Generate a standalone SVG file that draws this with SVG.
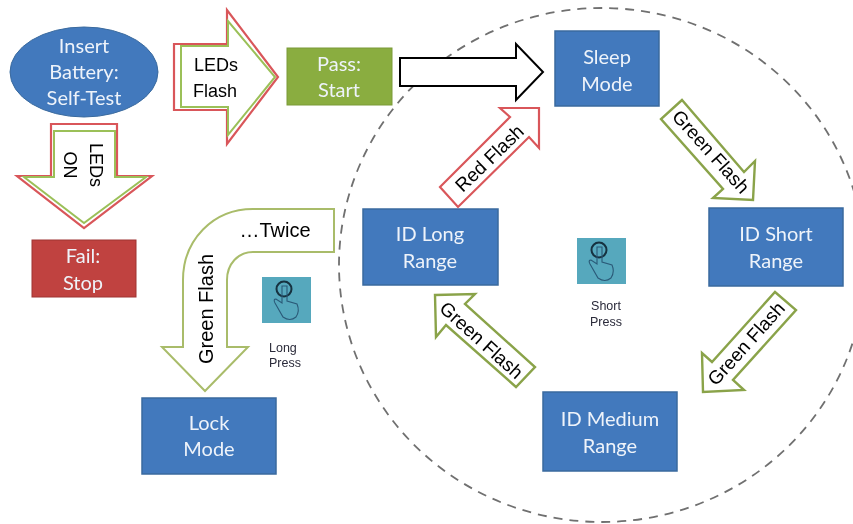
<svg xmlns="http://www.w3.org/2000/svg" width="853" height="524" viewBox="0 0 853 524">
<style>
svg>g{filter:url(#soft)}
.box{fill:#4279bd;stroke:#3a6a9e;stroke-width:1.5}
.nt{font-family:Lato,"Liberation Sans",sans-serif;font-size:20px;fill:#eef3fa;text-anchor:middle}
.at{font-family:"Liberation Sans",Arial,sans-serif;font-size:18px;fill:#000;text-anchor:middle}
.dg{font-size:19px}
.st{font-family:"Liberation Sans",Arial,sans-serif;font-size:12.5px;fill:#2a2a3a;text-anchor:middle}
.red{fill:#fff;stroke:#d9575a;stroke-width:2.2}
.grn{fill:#fff;stroke:#8aa34a;stroke-width:2.4}
.lite{fill:#fff;stroke:#a9bc6a;stroke-width:2}
.grnin{fill:#fff;stroke:#9bc059;stroke-width:2}
.ico{fill:#57a8bd}
.hand{fill:none;stroke:#2a5a78;stroke-width:1.1}
.ring{fill:none;stroke:#16303f;stroke-width:2}
</style>
<defs>
<filter id="soft" x="-5%" y="-5%" width="110%" height="110%"><feGaussianBlur stdDeviation="0.4"/></filter>
<g id="hand">
<rect class="ico" x="0" y="0" width="49" height="46"/>
<circle class="ring" cx="22" cy="12" r="7.5"/>
<path class="hand" d="M20 9V26L14 22Q11 22 13 26L21 40Q28 45 34 40Q38 34 35 27L25 24V9Z"/>
</g>
</defs>
<rect width="853" height="524" fill="#fff"/>
<g id="connectors">
<ellipse cx="602" cy="265" rx="263" ry="257" fill="none" stroke="#707070" stroke-width="1.8" stroke-dasharray="9 7"/>
<g id="arrow-leds-flash">
<path class="red" d="M174 44H227V10L278 77L227 144V110H174Z"/>
<path class="grnin" d="M181 46H228V21L275 77L228 135V107H181Z"/>
<text class="at" x="216" y="71">LEDs</text>
<text class="at" x="215" y="97">Flash</text>
</g>
<g id="arrow-leds-on">
<path class="red" d="M51 124H117V176H152L84 228L17 176H51Z"/>
<path class="grnin" d="M54 131H115V177H146L84 223L24 177H54Z"/>
<text class="at" transform="translate(64,165) rotate(90)">ON</text>
<text class="at" transform="translate(90,165) rotate(90)">LEDs</text>
</g>
<path id="arrow-start" d="M400 58H516V44L543 72L516 100V86H400Z" fill="#fff" stroke="#000" stroke-width="2"/>
<g id="arrow-red-flash">
<path class="red" d="M440 187L458 207L529 137L539 148V108H500L510 117Z"/>
<text class="at dg" transform="translate(494,163) rotate(-44)">Red Flash</text>
</g>
<g id="arrow-green-1">
<path class="grn" d="M682 100L661 119L723 189L713 198L753 200L755 161L744 172Z"/>
<text class="at dg" transform="translate(706,156) rotate(48)">Green Flash</text>
</g>
<g id="arrow-green-2">
<path class="grn" d="M775 292L796 310L733 380L744 390L703 392L702 353L712 362Z"/>
<text class="at dg" transform="translate(751,348) rotate(-48)">Green Flash</text>
</g>
<g id="arrow-green-3">
<path class="grn" d="M435 295L475 294L465 304L535 367L516 387L446 325L436 337Z"/>
<text class="at dg" transform="translate(477,345) rotate(42)">Green Flash</text>
</g>
<g id="arrow-twice">
<path class="lite" d="M334 209V252H253C238 252 227 264 227 280V347H248L205 391L162 347H183V280C183 240 213 209 253 209Z"/>
<text class="at" style="font-size:20px" transform="translate(213,309) rotate(-90)">Green Flash</text>
<text class="at" style="font-size:20px" x="275" y="237">…Twice</text>
</g>
</g>
<g id="node-insert">
<ellipse cx="84" cy="72" rx="74" ry="45" fill="#4279bd" stroke="#3a6a9e"/>
<text class="nt" x="84" y="53">Insert</text>
<text class="nt" x="84" y="79">Battery:</text>
<text class="nt" x="84" y="105">Self-Test</text>
</g>
<g id="node-fail">
<rect x="32" y="240" width="104" height="57" fill="#c0433f" stroke="#9e3533"/>
<text class="nt" x="83" y="263">Fail:</text>
<text class="nt" x="83" y="290">Stop</text>
</g>
<g id="node-pass">
<rect x="287" y="48" width="105" height="57" fill="#8aad3f" stroke="#7a9a38"/>
<text class="nt" x="339" y="71">Pass:</text>
<text class="nt" x="339" y="97">Start</text>
</g>
<g id="node-sleep">
<rect class="box" x="555" y="31" width="104" height="75"/>
<text class="nt" x="607" y="64">Sleep</text>
<text class="nt" x="607" y="91">Mode</text>
</g>
<g id="node-short">
<rect class="box" x="709" y="208" width="134" height="78"/>
<text class="nt" x="776" y="241">ID Short</text>
<text class="nt" x="776" y="268">Range</text>
</g>
<g id="node-long">
<rect class="box" x="363" y="209" width="135" height="76"/>
<text class="nt" x="430" y="241">ID Long</text>
<text class="nt" x="430" y="268">Range</text>
</g>
<g id="node-medium">
<rect class="box" x="543" y="392" width="134" height="79"/>
<text class="nt" x="610" y="426">ID Medium</text>
<text class="nt" x="610" y="453">Range</text>
</g>
<g id="node-lock">
<rect class="box" x="142" y="398" width="134" height="76"/>
<text class="nt" x="209" y="430">Lock</text>
<text class="nt" x="209" y="456">Mode</text>
</g>
<g id="icon-long">
<use href="#hand" x="262" y="277"/>
<text class="st" x="269" y="352" style="text-anchor:start">Long</text>
<text class="st" x="269" y="367" style="text-anchor:start">Press</text>
</g>
<g id="icon-short">
<use href="#hand" x="577" y="238"/>
<text class="st" x="606" y="310">Short</text>
<text class="st" x="606" y="326">Press</text>
</g>
</svg>
